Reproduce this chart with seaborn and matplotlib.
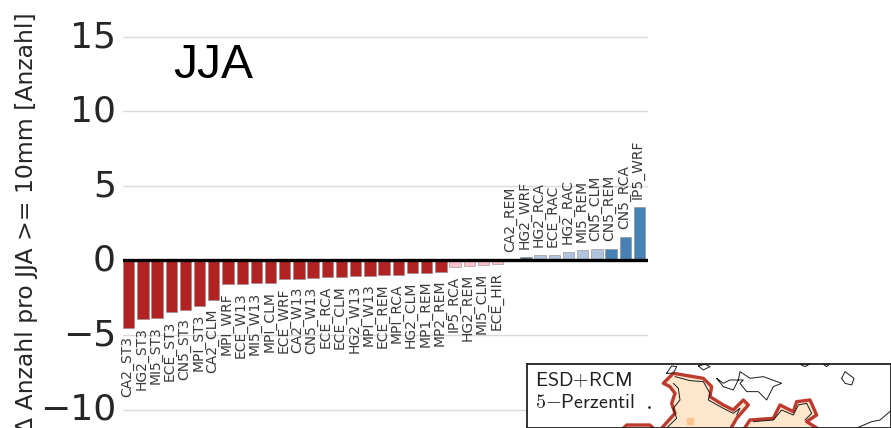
import matplotlib
matplotlib.use("Agg")
import matplotlib.pyplot as plt
from matplotlib.transforms import ScaledTranslation
import seaborn as sns

models = ["CA2_ST3","HG2_ST3","MI5_ST3","ECE_ST3","CN5_ST3","MPI_ST3","CA2_CLM","MPI_WRF","ECE_W13","MI5_W13",
          "MPI_CLM","ECE_WRF","CA2_W13","CN5_W13","ECE_RCA","ECE_CLM","HG2_W13","MPI_W13","ECE_REM","MPI_RCA",
          "HG2_CLM","MP1_REM","MP2_REM","IP5_RCA","HG2_REM","MI5_CLM","ECE_HIR","CA2_REM","HG2_WRF","HG2_RCA",
          "ECE_RAC","HG2_RAC","MI5_REM","CN5_CLM","CN5_REM","CN5_RCA","IP5_WRF"]
values = [-4.55,-3.96,-3.88,-3.49,-3.35,-3.03,-2.66,-1.62,-1.60,-1.55,
          -1.55,-1.27,-1.22,-1.20,-1.15,-1.13,-1.08,-1.03,-1.00,-1.00,
          -0.87,-0.82,-0.78,-0.47,-0.38,-0.30,-0.22,0.03,0.24,0.33,
          0.33,0.58,0.67,0.73,0.76,1.54,3.59]
bar_colors = ["#B22222"]*23 + ["#FFC0CB"]*4 + ["#B0C4DE","#5F7186"] + ["#B0C4DE"]*5 + ["#4682B4"]*3
y_ticks = [-10,-5,0,5,10,15]
y_label = "\u0394 Anzahl pro JJA >= 10mm [Anzahl]"
season = "JJA"
inset_lines = [r"$\mathsf{ESD{+}RCM}$", r"$5\mathsf{{-}Perzentil}$"]

# map outlines, in the inset's own map units
land_west_x = [460,490,580,605,600,640,670,700,715,680,660,450,495,485,495,480,460]
land_west_y = [100,70,85,110,140,165,180,150,165,205,240,240,190,160,130,110,100]
land_east_x = [700,720,790,810,850,860,900,920,890,930,700]
land_east_y = [240,210,205,165,185,155,150,195,215,240,240]
land_south_x = [335,350,420,435,335]
land_south_y = [240,225,225,240,240]
isle_a_x = [995,1005,1032,1025,1005,995]
isle_a_y = [85,65,85,105,100,85]
isle_b_x = [620,640,670,685,690,720,760,815,790,770,745,710,690,700,660,640,620]
isle_b_y = [85,110,120,90,65,85,80,100,110,150,125,125,100,90,90,100,85]
isle_c_x = [470,485,500,490,470]
isle_c_y = [70,48,50,70,70]
isle_d_x = [870,885,898,885,870]
isle_d_y = [43,50,43,43,43]
isle_e_x = [940,950,958,940]
isle_e_y = [43,50,43,43]
isle_f_x = [565,580,600,585,565]
isle_f_y = [48,60,50,43,48]
coast_x = [1143,1110,1085,1040]
coast_y = [182,210,215,234]
coast_w_x = [495,540,580,600,595,640,670,690,680]
coast_w_y = [80,92,95,130,150,175,190,175,195]
coast_w2_x = [490,505,510,490,500,470]
coast_w2_y = [100,115,150,175,205,234]
coast_e_x = [730,790,815,850,865,890,905,885]
coast_e_y = [215,210,180,195,165,160,190,210]
cell_x = [540]
cell_y = [212]

W, H = 891, 428
sns.set_style("whitegrid")
plt.rcParams["font.family"] = ["DejaVu Sans"]
plt.rcParams["mathtext.fontset"] = "cm"
fig = plt.figure(figsize=(W/100, H/100), dpi=100)
ax = fig.add_axes([123/W, 0, 525/W, (H-21)/H])
sns.barplot(x=models, y=values, hue=models, palette=bar_colors, legend=False, dodge=False, saturation=1,
            width=0.8, edgecolor="#8A8A8A", linewidth=0.4, ax=ax, zorder=2)
ax.set_xlim(-0.4, 36.6)
ax.set_ylim(-11.24, 16.04)
ax.set_yticks(y_ticks)
ax.set_yticklabels([str(t).replace("-", "\u2212") for t in y_ticks])
ax.set_xticks([])
ax.grid(axis="x", visible=False)
ax.grid(axis="y", color="#DADADA", lw=1.0)
ax.set_axisbelow(True)
ax.tick_params(axis="y", labelsize=26, length=0, pad=5, labelcolor="#262626")
shift = ScaledTranslation(0, 3/100, fig.dpi_scale_trans)
for lab in ax.get_yticklabels():
    lab.set_transform(lab.get_transform() + shift)
for s in ax.spines.values():
    s.set_visible(False)
ax.axhline(0, color="black", lw=2.4, zorder=3)
for i, (m, v) in enumerate(zip(models, values)):
    ax.annotate(m, (i, v), xytext=(-1, 5.8 if v > 0 else -5.8), textcoords="offset points",
                rotation=90, ha="center", va="bottom" if v > 0 else "top",
                fontsize=10, color="#3A3A3A")
fig.text(173/W, (H-78)/H, season, fontsize=34.6, color="black", va="baseline", ha="left",
         family=["Liberation Sans"])
fig.text(27/W, (H-12)/H, y_label, rotation=90, ha="center", va="top", fontsize=16.9, color="#262626")

ins = fig.add_axes([527.3/W, 0, (W-527.3)/W, (H-364.3)/H], zorder=5)
ins.set_xlim(52, 1143)
ins.set_ylim(234, 43)
ins.set_xticks([]); ins.set_yticks([]); ins.grid(False)
ins.set_facecolor("white")
for k, s in ins.spines.items():
    s.set_edgecolor("#222222"); s.set_linewidth(1.3)
for px, py in [(land_west_x, land_west_y), (land_east_x, land_east_y), (land_south_x, land_south_y)]:
    ins.fill(px, py, facecolor="#FDE6CC", edgecolor="#BC3A2E", lw=2.4, joinstyle="round", zorder=2)
for px, py in [(isle_a_x, isle_a_y), (isle_b_x, isle_b_y), (isle_c_x, isle_c_y), (isle_d_x, isle_d_y),
               (isle_e_x, isle_e_y), (isle_f_x, isle_f_y), (coast_x, coast_y),
               (coast_w_x, coast_w_y), (coast_w2_x, coast_w2_y), (coast_e_x, coast_e_y)]:
    ins.plot(px, py, color="#1A1A1A", lw=0.7, zorder=3)
ins.plot(cell_x, cell_y, marker="s", color="#FBC48E", ms=4.5, ls="none", zorder=4)
ins.text(75, 108, inset_lines[0], fontsize=14.5, color="#222222", va="baseline", ha="left", zorder=6)
ins.text(75, 175, inset_lines[1], fontsize=14.5, color="#222222", va="baseline", ha="left", zorder=6)
ins.plot([418], [172], marker=".", ms=2, color="#333333", ls="none")

fig.savefig("out.png", dpi=100, facecolor="white")
